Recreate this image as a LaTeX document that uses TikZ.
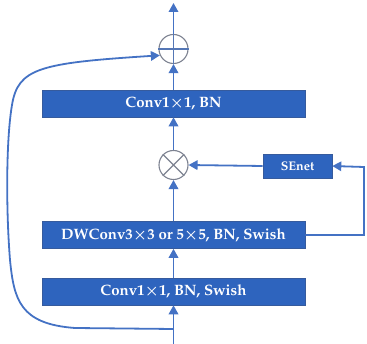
\documentclass[tikz,border=0pt]{standalone}
\usepackage[T1]{fontenc}
\usepackage{mathpazo}
\usetikzlibrary{arrows.meta}
\definecolor{boxblue}{RGB}{46,100,190}
\definecolor{lineblue}{RGB}{68,114,196}
\definecolor{circgray}{RGB}{125,130,145}
\begin{document}
\begin{tikzpicture}[x=1pt,y=-1pt,
  blk/.style={draw=lineblue!80!black,line width=0.6pt,fill=boxblue,text=white,minimum width=263pt,minimum height=27pt,inner sep=0pt,font=\fontsize{15}{17}\selectfont\bfseries\boldmath},
  sebox/.style={draw=lineblue!80!black,line width=0.6pt,fill=boxblue,text=white,minimum width=69pt,minimum height=24pt,inner sep=0pt,font=\fontsize{12.5}{14}\selectfont\bfseries},
  op/.style={circle,draw=circgray,line width=1.1pt,minimum size=29pt,inner sep=0pt},
  conn/.style={draw=lineblue,line width=1.8pt,-{Triangle[length=9pt,width=9.5pt]}},
  plain/.style={draw=lineblue,line width=1.8pt}]
\useasboundingbox (0,0) rectangle (367,344);
\node[blk] (b1) at (173.5,103.5) {Conv1$\times$1, BN};
\node[blk] (b2) at (173.5,235) {DWConv3$\times$3 or 5$\times$5, BN, Swish};
\node[blk] (b3) at (173.5,291.5) {Conv1$\times$1, BN, Swish};
\node[sebox] (se) at (297.5,166) {SEnet};
\node[op] (mul) at (173.5,165) {};
\node[op] (add) at (173.5,49) {};
\draw[circgray,line width=1.1pt] (mul.north east) -- (mul.south west) (mul.north west) -- (mul.south east);
\draw[lineblue!70!circgray,line width=1.1pt] (add.north) -- (add.south) (add.west) -- (add.east);
\coordinate (in) at (173.5,344);
\coordinate (out) at (173.5,3);
\coordinate (sk) at (173.5,329);
\coordinate (rt) at (364,235);
\coordinate (rtop) at (364,167);
\draw[conn] (in) -- (b3.south);
\draw[conn] (b3.north) -- (b2.south);
\draw[conn] (b2.north) -- (mul.south);
\draw[conn] (mul.north) -- (b1.south);
\draw[conn] (b1.north) -- (add.south);
\draw[conn] (add.north) -- (out);
\draw[conn] (se.west) -- (mul.east);
\draw[conn] (b2.east) -- (rt) -- (rtop) -- (se.east);
\draw[conn] (sk) -- (75,328) .. controls (20,324) and (14,300) .. (10,260) .. controls (6,210) and (6,140) .. (12,105) .. controls (18,68) and (40,63) .. (add.205);
\end{tikzpicture}
\end{document}
